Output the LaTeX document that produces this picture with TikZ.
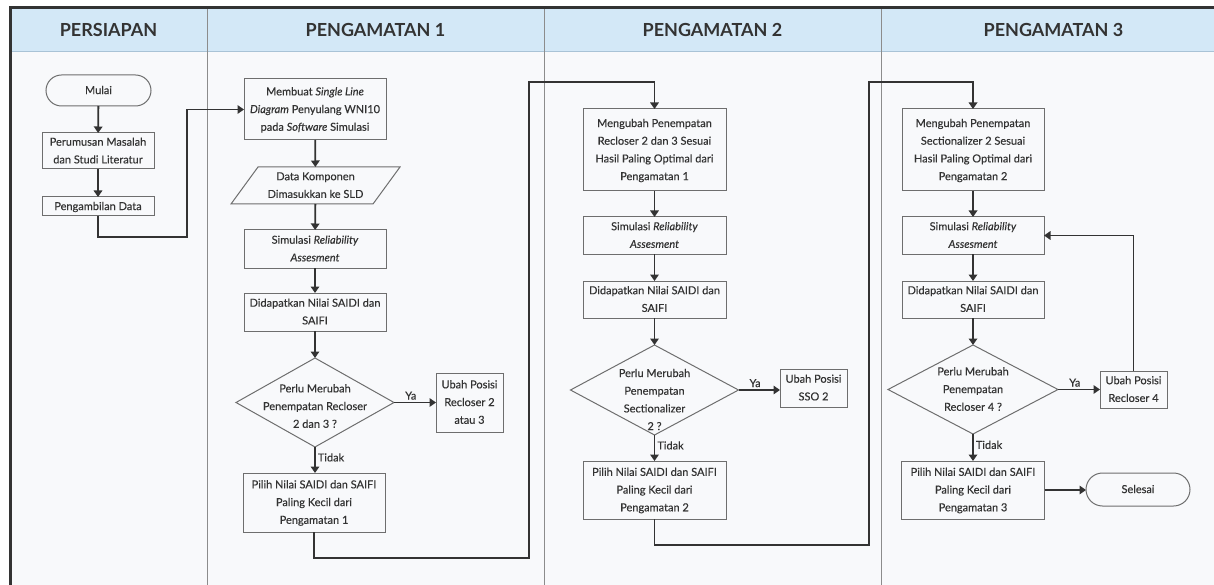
\documentclass[tikz,border=0pt]{standalone}
\usepackage{fontspec}
\setmainfont{Lato}[FakeBold=0.35]
\newfontfamily\headf{Lato}
\usetikzlibrary{arrows.meta,shapes.geometric,shapes.misc}
\definecolor{hdr}{HTML}{D3E8F7}
\definecolor{hdrline}{HTML}{A9C3D6}
\definecolor{bg}{HTML}{F8F9FB}
\definecolor{ink}{HTML}{333333}
\definecolor{boxc}{HTML}{6E6E6E}
\definecolor{arr}{HTML}{333333}
\definecolor{divc}{HTML}{8C8C8C}
\newcommand\bfnt{\fontsize{11}{17.7}\selectfont}
\newcommand\zt[2][0]{\makebox[0pt]{\raisebox{\dimexpr-#1pt-0.25em\relax}[0pt][0pt]{\begin{tabular}{@{}c@{}}#2\end{tabular}}}}
\begin{document}
\begin{tikzpicture}[x=1pt,y=-1pt,
  bx/.style={draw=boxc, fill=bg, line width=1pt, inner sep=0pt, outer sep=0pt, text=ink, font=\bfnt, rectangle},
  term/.style={bx, rounded rectangle},
  dia/.style={bx, diamond},
  para/.style={inner sep=0pt, outer sep=0pt, text=ink, font=\bfnt, rectangle},
  paraline/.style={draw=boxc, line width=1pt},
  conn/.style={draw=arr, line width=1.8pt, line join=miter, -{Triangle[width=8.5pt,length=6.5pt]}},
  lbl/.style={font=\bfnt, text=ink, inner sep=2pt},
  head/.style={font=\headf\fontsize{18}{20}\selectfont\bfseries, text=arr}]
\useasboundingbox (0,0) rectangle (1214,585);
% lanes
\fill[bg] (10,52) rectangle (1230,600);
\fill[hdr] (10,7) rectangle (1230,52);
\draw[hdrline, line width=1pt] (10,52) -- (1230,52);
\foreach \xx in {207,544,881} \draw[divc, line width=0.8pt] (\xx,7) -- (\xx,600);
\draw[arr, line width=2.2pt] (10.5,600) -- (10.5,7.5) -- (1230,7.5);
\node[head] (h1) at (108.5,30) {PERSIAPAN};
\node[head] (h2) at (375.5,30) {PENGAMATAN 1};
\node[head] (h3) at (712.5,30) {PENGAMATAN 2};
\node[head] (h4) at (1053.5,30) {PENGAMATAN 3};
% column 1
\node[term, minimum width=105pt, minimum height=31pt] (mulai) at (98.5,90.5) {\zt{Mulai}};
\node[bx, minimum width=112pt, minimum height=36pt] (per) at (98,151) {\zt{Perumusan Masalah\\dan Studi Literatur}};
\node[bx, minimum width=112pt, minimum height=19pt] (pga) at (98,206.5) {\zt{Pengambilan Data}};
% column 2
\node[bx, minimum width=142pt, minimum height=61pt] (memb) at (315,109.5) {\zt{Membuat \textit{Single Line}\\\textit{Diagram} Penyulang WNI10\\pada \textit{Software} Simulasi}};
\node[para, minimum width=142pt, minimum height=37pt] (data) at (315.5,185.5) {\zt{Data Komponen\\Dimasukkan ke SLD}};
\draw[paraline] ([xshift=-13.5pt]data.south west) -- ([xshift=13.5pt]data.north west) -- ([xshift=13.5pt]data.north east) -- ([xshift=-13.5pt]data.south east) -- cycle;
\node[bx, minimum width=142pt, minimum height=38pt] (sim1) at (315,249) {\zt{Simulasi \textit{Reliability}\\\textit{Assesment}}};
\node[bx, minimum width=142pt, minimum height=38pt] (did1) at (315,312) {\zt{Didapatkan Nilai SAIDI dan\\SAIFI}};
\node[dia, minimum width=158pt, minimum height=89pt] (dec1) at (315,402.5) {\zt[4]{Perlu Merubah\\Penempatan Recloser\\2 dan 3 ?}};
\node[bx, minimum width=67pt, minimum height=59pt] (ubah1) at (469.5,402.5) {\zt{Ubah Posisi\\Recloser 2\\atau 3}};
\node[bx, minimum width=142pt, minimum height=59pt] (pil1) at (314,502.5) {\zt{Pilih Nilai SAIDI dan SAIFI\\Paling Kecil dari\\Pengamatan 1}};
% column 3
\node[bx, minimum width=143pt, minimum height=82pt] (memb2) at (654.5,150) {\zt{Mengubah Penempatan\\Recloser 2 dan 3 Sesuai\\Hasil Paling Optimal dari\\Pengamatan 1}};
\node[bx, minimum width=143pt, minimum height=37pt] (sim2) at (654.5,235.5) {\zt{Simulasi \textit{Reliability}\\\textit{Assesment}}};
\node[bx, minimum width=143pt, minimum height=37pt] (did2) at (654.5,299.5) {\zt{Didapatkan Nilai SAIDI dan\\SAIFI}};
\node[dia, minimum width=168pt, minimum height=90pt] (dec2) at (654.5,390) {\zt[10]{Perlu Merubah\\Penempatan\\Sectionalizer\\2 ?}};
\node[bx, minimum width=67pt, minimum height=38pt] (ubah2) at (813.5,388) {\zt{Ubah Posisi\\SSO 2}};
\node[bx, minimum width=143pt, minimum height=58pt] (pil2) at (654.5,490) {\zt{Pilih Nilai SAIDI dan SAIFI\\Paling Kecil dari\\Pengamatan 2}};
% column 4
\node[bx, minimum width=142pt, minimum height=82pt] (memb3) at (973,150) {\zt{Mengubah Penempatan\\Sectionalizer 2 Sesuai\\Hasil Paling Optimal dari\\Pengamatan 2}};
\node[bx, minimum width=142pt, minimum height=37pt] (sim3) at (973,235.5) {\zt{Simulasi \textit{Reliability}\\\textit{Assesment}}};
\node[bx, minimum width=142pt, minimum height=37pt] (did3) at (973,299.5) {\zt{Didapatkan Nilai SAIDI dan\\SAIFI}};
\node[dia, minimum width=170pt, minimum height=89pt] (dec3) at (973,389.5) {\zt{Perlu Merubah\\Penempatan\\Recloser 4 ?}};
\node[bx, minimum width=67pt, minimum height=37pt] (ubah3) at (1133.5,389.5) {\zt{Ubah Posisi\\Recloser 4}};
\node[bx, minimum width=143pt, minimum height=58pt] (pil3) at (973,490) {\zt{Pilih Nilai SAIDI dan SAIFI\\Paling Kecil dari\\Pengamatan 3}};
\node[term, minimum width=104pt, minimum height=33pt] (sel) at (1138,489.5) {\zt{Selesai}};
% route coordinates
\coordinate (t1) at (187,237);
\coordinate (t2) at (529,558);
\coordinate (t3) at (529,82);
\coordinate (t4) at (869,545);
\coordinate (t5) at (869,82);
% connectors
\draw[conn] (mulai) -- (per);
\draw[conn] (per) -- (pga);
\draw[conn] (pga.south) |- (t1) |- (memb.west);
\draw[conn] (memb) -- (data);
\draw[conn] (data) -- (sim1);
\draw[conn] (sim1) -- (did1);
\draw[conn] (did1) -- (dec1);
\draw[conn] (dec1.east) -- node[lbl, above, pos=0.4] {Ya} (dec1.east -| ubah1.west);
\draw[conn] (dec1.south) -- node[lbl, right, pos=0.4] {Tidak} (dec1.south |- pil1.north);
\draw[conn] (pil1.south) |- (t2) -- (t3) -| (memb2.north);
\draw[conn] (memb2) -- (sim2);
\draw[conn] (sim2) -- (did2);
\draw[conn] (did2) -- (dec2);
\draw[conn] (dec2.east) -- node[lbl, above, pos=0.4] {Ya} (dec2.east -| ubah2.west);
\draw[conn] (dec2.south) -- node[lbl, right, pos=0.4] {Tidak} (dec2.south |- pil2.north);
\draw[conn] (pil2.south) |- (t4) -- (t5) -| (memb3.north);
\draw[conn] (memb3) -- (sim3);
\draw[conn] (sim3) -- (did3);
\draw[conn] (did3) -- (dec3);
\draw[conn] (dec3.east) -- node[lbl, above, pos=0.4] {Ya} (dec3.east -| ubah3.west);
\draw[conn] (dec3.south) -- node[lbl, right, pos=0.4] {Tidak} (dec3.south |- pil3.north);
\draw[conn] (ubah3.north) |- (sim3.east);
\draw[conn] (pil3.east) -- (pil3.east -| sel.west);
\end{tikzpicture}
\end{document}
